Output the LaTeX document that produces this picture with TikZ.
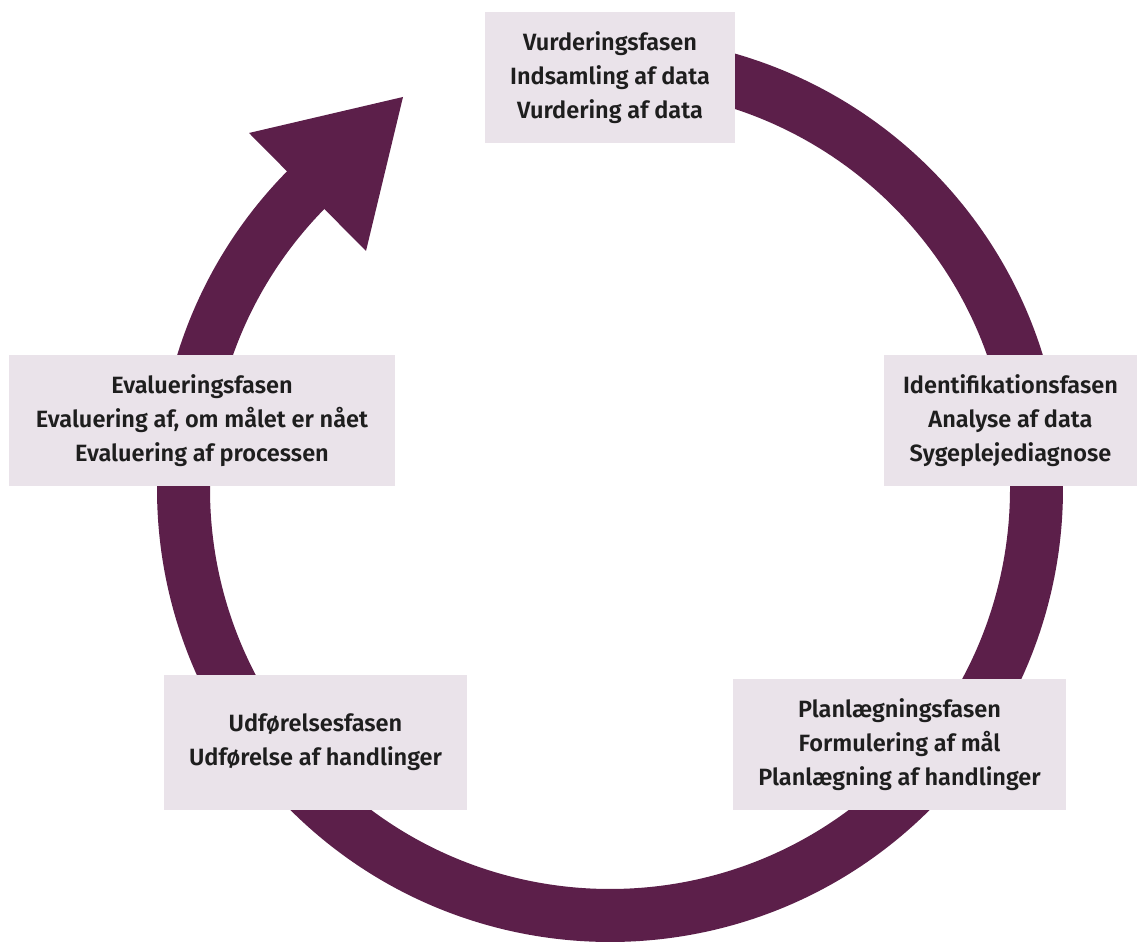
\documentclass[tikz,border=0pt]{standalone}
\usepackage{fontspec}
\setmainfont{Fira Sans}[BoldFont={* SemiBold}]
\definecolor{ring}{HTML}{5C1F4A}
\definecolor{boxfill}{HTML}{EAE3EA}
\definecolor{txt}{HTML}{1E1E1E}
\begin{document}
\begin{tikzpicture}[x=0.02cm,y=0.02cm,
  phase/.style={fill=boxfill, draw=none, align=center, text=txt,
    font=\bfseries\fontsize{13.4}{19.4}\selectfont, inner sep=0pt}]
\useasboundingbox (0,0) rectangle (1137,942);
\coordinate (c) at (610,453);
% ring
\draw[ring, line width=1.06cm] (c) ++(134:426.5) arc[start angle=134, end angle=455, radius=426.5];
% arrow head
\coordinate (tip) at (403,845);
\coordinate (b1) at (249,809);
\coordinate (b2) at (366,691);
\fill[ring] (b1) -- (tip) -- (b2) -- cycle;
% boxes
\node[phase, minimum width=5.0cm, minimum height=2.62cm] (vurd) at (610,864.5)
  {Vurderingsfasen\\Indsamling af data\\Vurdering af data};
\node[phase, minimum width=5.06cm, minimum height=2.62cm] (ident) at (1010.5,521.5)
  {Identifikationsfasen\\Analyse af data\\Sygeplejediagnose};
\node[phase, minimum width=7.72cm, minimum height=2.62cm] (eval) at (202,521.5)
  {Evalueringsfasen\\Evaluering af, om målet er nået\\Evaluering af processen};
\node[phase, minimum width=6.06cm, minimum height=2.7cm] (udf) at (315.5,199.5)
  {Udførelsesfasen\\Udførelse af handlinger};
\node[phase, minimum width=6.66cm, minimum height=2.62cm] (plan) at (899.5,197.5)
  {Planlægningsfasen\\Formulering af mål\\Planlægning af handlinger};
\end{tikzpicture}
\end{document}
